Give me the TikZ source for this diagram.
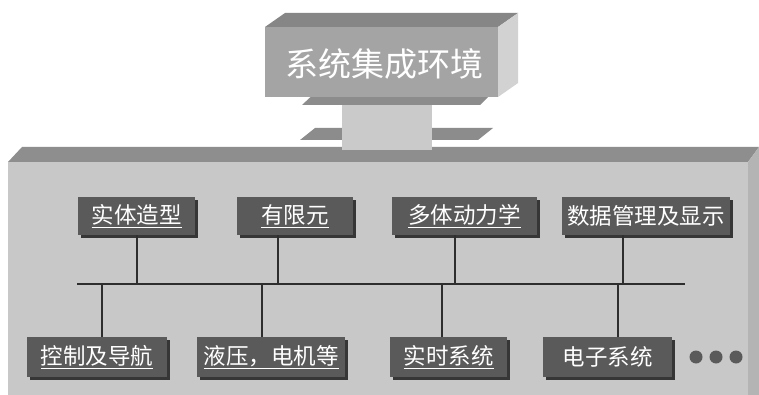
\documentclass[tikz,border=0pt]{standalone}
\usepackage{fontspec}
\newfontfamily\cjk{Noto Sans CJK SC}
\usetikzlibrary{shadows}
\definecolor{panelfront}{HTML}{C8C8C8}
\definecolor{paneltop}{HTML}{8E8E8E}
\definecolor{panelside}{HTML}{B4B4B4}
\definecolor{hubfront}{HTML}{A4A4A4}
\definecolor{hubtop}{HTML}{868686}
\definecolor{hubside}{HTML}{D2D2D2}
\definecolor{flange}{HTML}{8C8C8C}
\definecolor{neck}{HTML}{CACACA}
\definecolor{boxfill}{HTML}{5A5A5A}
\definecolor{boxshadow}{HTML}{363636}
\definecolor{wire}{HTML}{2E2E2E}
\tikzset{
  modbox/.style={fill=boxfill, text=white, inner sep=0pt,
    minimum height=38pt, font=\cjk\fontsize{22.5}{22.5}\selectfont,
    drop shadow={shadow xshift=3pt, shadow yshift=-3pt, fill=boxshadow, opacity=1}},
  wireline/.style={draw=wire, line width=1.6pt},
  dotmark/.style={circle, fill=boxfill, minimum width=13pt, minimum height=12pt, inner sep=0pt}
}
\begin{document}
\begin{tikzpicture}[x=1pt,y=-1pt]
\useasboundingbox (0,0) rectangle (759,395);
\fill[white] (0,0) rectangle (759,395);
% main panel
\fill[paneltop] (8,162) -- (22,147) -- (759,147) -- (748,162) -- cycle;
\fill[panelside] (748,162) -- (759,147) -- (759,395) -- (748,395) -- cycle;
\fill[panelfront] (8,162) rectangle (748,395);
% lower flange
\fill[flange] (300,140) -- (315,128) -- (493,128) -- (478,140) -- cycle;
% neck
\fill[neck] (342,95) rectangle (432,150);
% upper flange
\fill[flange] (302,105) -- (318,90) -- (495,90) -- (480,105) -- cycle;
% top hub box
\fill[hubtop] (265,27) -- (285,13) -- (518,13) -- (498,27) -- cycle;
\fill[hubside] (498,27) -- (518,13) -- (518,83) -- (498,97) -- cycle;
\fill[hubfront] (265,27) rectangle (498,97);
\node[text=white, font=\cjk\fontsize{33}{33}\selectfont] (hub) at (384,64) {系统集成环境};
% modules
\node[modbox, minimum width=117pt] (A1) at (136.5,216) {\underline{实体造型}};
\node[modbox, minimum width=116pt] (A2) at (295,216) {\underline{有限元}};
\node[modbox, minimum width=145pt] (A3) at (464.5,216) {\underline{多体动力学}};
\node[modbox, minimum width=168pt] (A4) at (646,216) {数据管理及显示};
\node[modbox, minimum width=140pt, minimum height=40pt] (B1) at (97,357) {\underline{控制及导航}};
\node[modbox, minimum width=148pt, minimum height=40pt] (B2) at (271,357) {\underline{液压，电机等}};
\node[modbox, minimum width=117pt, minimum height=40pt] (B3) at (448.5,357) {\underline{实时系统}};
\node[modbox, minimum width=129pt, minimum height=40pt] (B4) at (607.5,357) {电子系统};
% dots
\node[dotmark] (d1) at (696,357) {};
\node[dotmark] (d2) at (716,357) {};
\node[dotmark] (d3) at (736,357) {};
% bus
\coordinate (busL) at (77,284);
\coordinate (busR) at (685,284);
\coordinate (t1) at (137,284);
\coordinate (t2) at (278,284);
\coordinate (t3) at (455,284);
\coordinate (t4) at (623,284);
\coordinate (b1) at (102,284);
\coordinate (b2) at (262,284);
\coordinate (b3) at (442,284);
\coordinate (b4) at (618,284);
\draw[wireline] (busL) -- (busR);
\foreach \t/\n in {t1/A1,t2/A2,t3/A3,t4/A4}{\draw[wireline] (\t |- \n.south) -- (\t);}
\foreach \t/\n in {b1/B1,b2/B2,b3/B3,b4/B4}{\draw[wireline] (\t) -- (\t |- \n.north);}
\end{tikzpicture}
\end{document}
